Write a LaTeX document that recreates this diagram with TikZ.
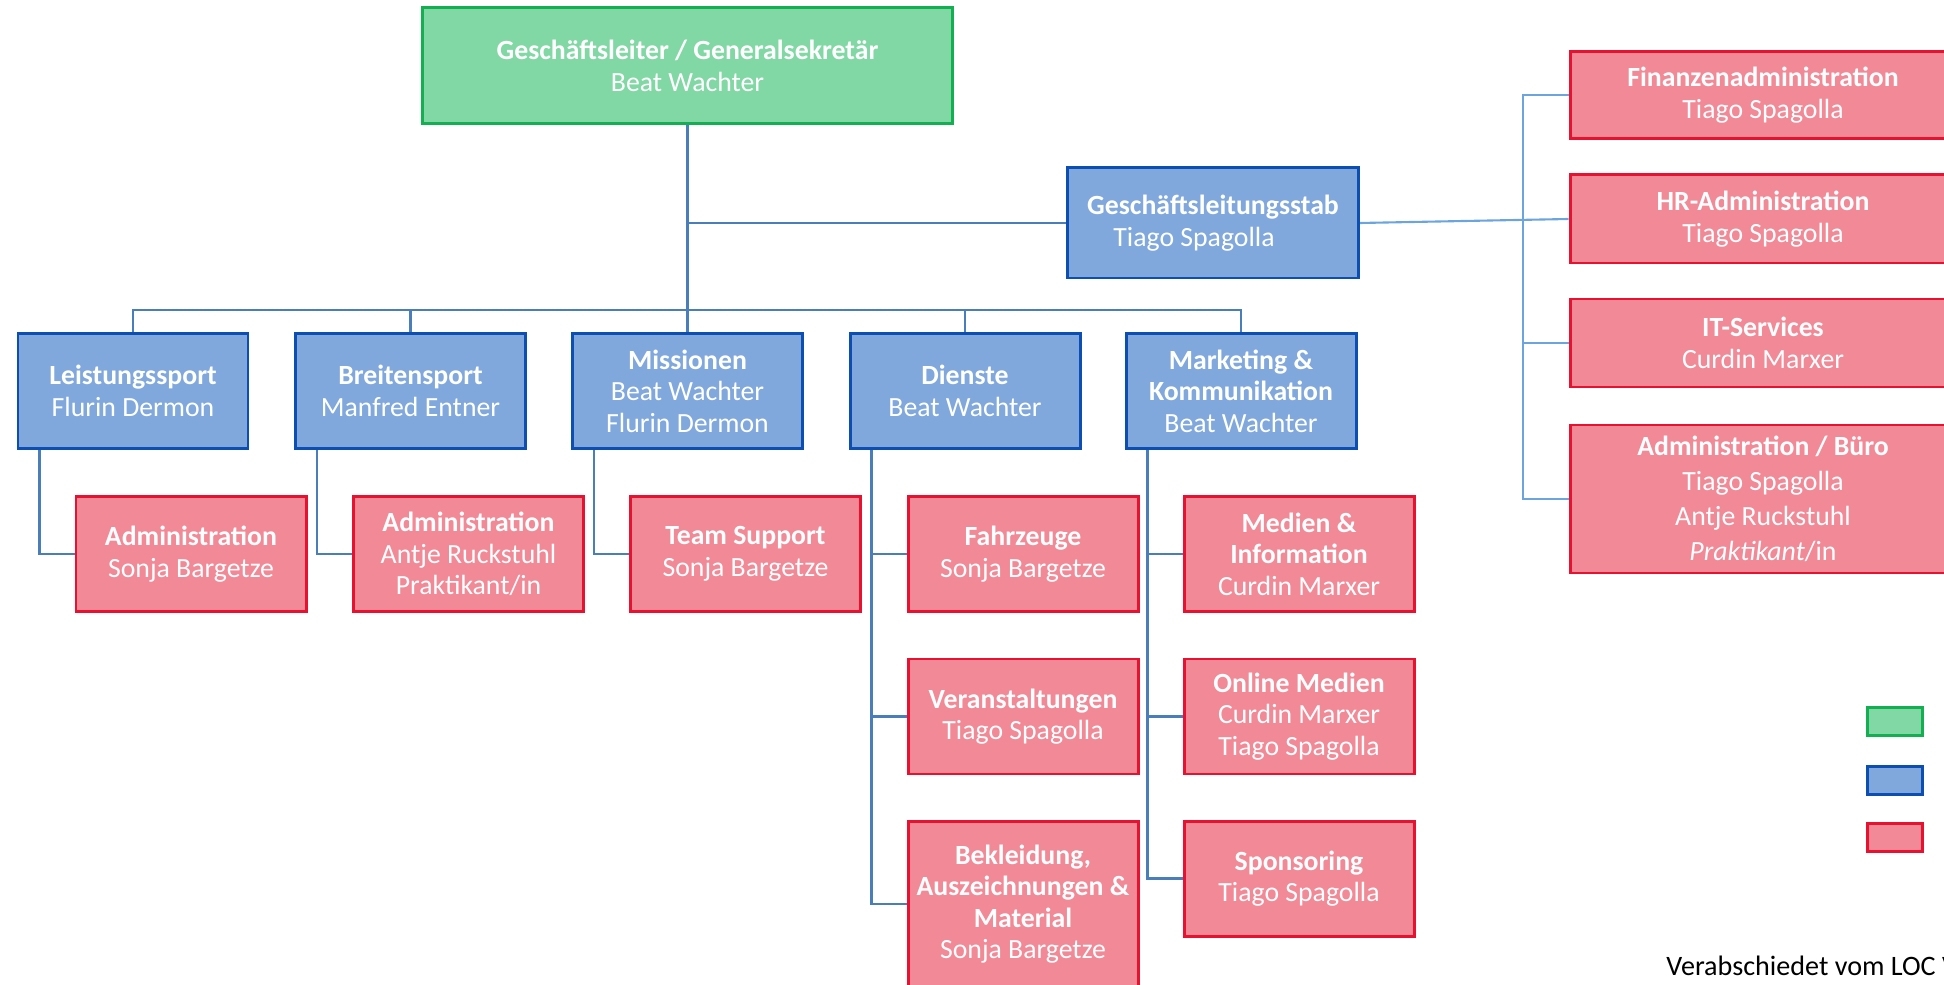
\documentclass[tikz,border=0pt]{standalone}
\usepackage{fontspec}
\setmainfont{Carlito}
\usepackage{tikz}

\definecolor{topfill}{HTML}{82D8A5}
\definecolor{topline}{HTML}{12B050}
\definecolor{bluefill}{HTML}{80A8DC}
\definecolor{blueline}{HTML}{0C4EB2}
\definecolor{redfill}{HTML}{F28996}
\definecolor{redline}{HTML}{E81230}
\definecolor{linkcol}{HTML}{4A7EBB}
\definecolor{stabcol}{HTML}{6CA4DE}

\tikzset{
  unit/.style={draw, line width=0.85pt, inner sep=0pt, align=center, text=white,
    minimum width=2.30cm, minimum height=1.15cm,
    font=\fontsize{7.9}{8.96}\selectfont},
  head/.style={unit, fill=topfill, draw=topline},
  dept/.style={unit, fill=bluefill, draw=blueline},
  team/.style={unit, fill=redfill, draw=redline},
  link/.style={draw=linkcol, line width=0.6pt},
  stablink/.style={draw=stabcol, line width=0.6pt},
}

\begin{document}
\begin{tikzpicture}
            \useasboundingbox (0,0) rectangle (19.44,-9.85);

            % Leitung
            \node[head, minimum width=5.30cm, minimum height=1.16cm] (gl) at (6.875,-0.66) {\textbf{Geschäftsleiter / Generalsekretär}\\Beat Wachter};
            \node[dept, minimum width=2.91cm, minimum height=1.10cm] (stab) at (12.13,-2.23) {\textbf{Geschäftsleitungsstab}\\Tiago Spagolla\rule{0.38cm}{0pt}};

            % Bereiche
            \node[dept] (lsp) at (1.33,-3.91) {\textbf{Leistungssport}\\Flurin Dermon};
            \node[dept] (bsp) at (4.105,-3.91) {\textbf{Breitensport}\\Manfred Entner};
            \node[dept] (mis) at (6.875,-3.91) {\textbf{Missionen}\\Beat Wachter\\Flurin Dermon};
            \node[dept] (die) at (9.65,-3.91) {\textbf{Dienste}\\Beat Wachter};
            \node[dept] (mkt) at (12.41,-3.91) {\textbf{Marketing \&}\\\textbf{Kommunikation}\\Beat Wachter};

            % Teams
            \node[team] (lspadm) at (1.91,-5.54) {\textbf{Administration}\\Sonja Bargetze};
            \node[team] (bspadm) at (4.685,-5.54) {\textbf{Administration}\\Antje Ruckstuhl\\Praktikant/in};
            \node[team] (missup) at (7.455,-5.54) {\textbf{Team Support}\\Sonja Bargetze};
            \node[team] (fz) at (10.23,-5.54) {\textbf{Fahrzeuge}\\Sonja Bargetze};
            \node[team] (va) at (10.23,-7.165) {\textbf{Veranstaltungen}\\Tiago Spagolla};
            \node[team, minimum height=1.66cm] (bek) at (10.23,-9.04) {\textbf{Bekleidung,}\\\textbf{Auszeichnungen \&}\\\textbf{Material}\\Sonja Bargetze};
            \node[team] (med) at (12.99,-5.54) {\textbf{Medien \&}\\\textbf{Information}\\Curdin Marxer};
            \node[team] (onl) at (12.99,-7.165) {\textbf{Online Medien}\\Curdin Marxer\\Tiago Spagolla};
            \node[team] (spo) at (12.99,-8.785) {\textbf{Sponsoring}\\Tiago Spagolla};

            % Stab
            \node[team, minimum width=3.86cm, minimum height=0.875cm] (fin) at (17.63,-0.95) {\textbf{Finanzenadministration}\\Tiago Spagolla};
            \node[team, minimum width=3.86cm, minimum height=0.88cm] (hr) at (17.63,-2.19) {\textbf{HR-Administration}\\Tiago Spagolla};
            \node[team, minimum width=3.86cm, minimum height=0.88cm] (its) at (17.63,-3.43) {\textbf{IT-Services}\\Curdin Marxer};
            \node[team, minimum width=3.86cm, minimum height=1.48cm] (buero) at (17.63,-4.99) {\textbf{Administration / Büro}\\[1pt]Tiago Spagolla\\[1pt]Antje Ruckstuhl\\[1pt]\textit{Praktikant}/in};

            % Legende
            \node[head, minimum width=0.55cm, minimum height=0.28cm] (keyhead) at (18.945,-7.215) {};
            \node[dept, minimum width=0.55cm, minimum height=0.28cm] (keydept) at (18.945,-7.80) {};
            \node[team, minimum width=0.55cm, minimum height=0.28cm] (keyteam) at (18.945,-8.37) {};

            \node[anchor=base west, inner sep=0pt, font=\fontsize{8}{10}\selectfont] (note) at (16.657,-9.757) {Verabschiedet vom LOC V};

            % Linien
            \coordinate (bus) at (6.875,-3.10);
            \draw[link] (gl.south) |- (stab.west);
            \draw[link] (gl.south) -- (mis.north);
            \foreach \n in {lsp,bsp,die,mkt}
                \draw[link] (bus) -| (\n.north);

            \draw[link] ([xshift=0.23cm]lsp.south west) |- (lspadm.west);
            \draw[link] ([xshift=0.23cm]bsp.south west) |- (bspadm.west);
            \draw[link] ([xshift=0.23cm]mis.south west) |- (missup.west);
            \foreach \n in {fz,va,bek}
                \draw[link] ([xshift=0.23cm]die.south west) |- (\n.west);
            \foreach \n in {med,onl,spo}
                \draw[link] ([xshift=0.23cm]mkt.south west) |- (\n.west);

            \coordinate (rbus) at (15.23,-2.19);
            \draw[stablink] (stab.east) -- (hr.west);
            \foreach \n in {fin,its,buero}
                \draw[stablink] (rbus) |- (\n.west);
        \end{tikzpicture}
\end{document}
